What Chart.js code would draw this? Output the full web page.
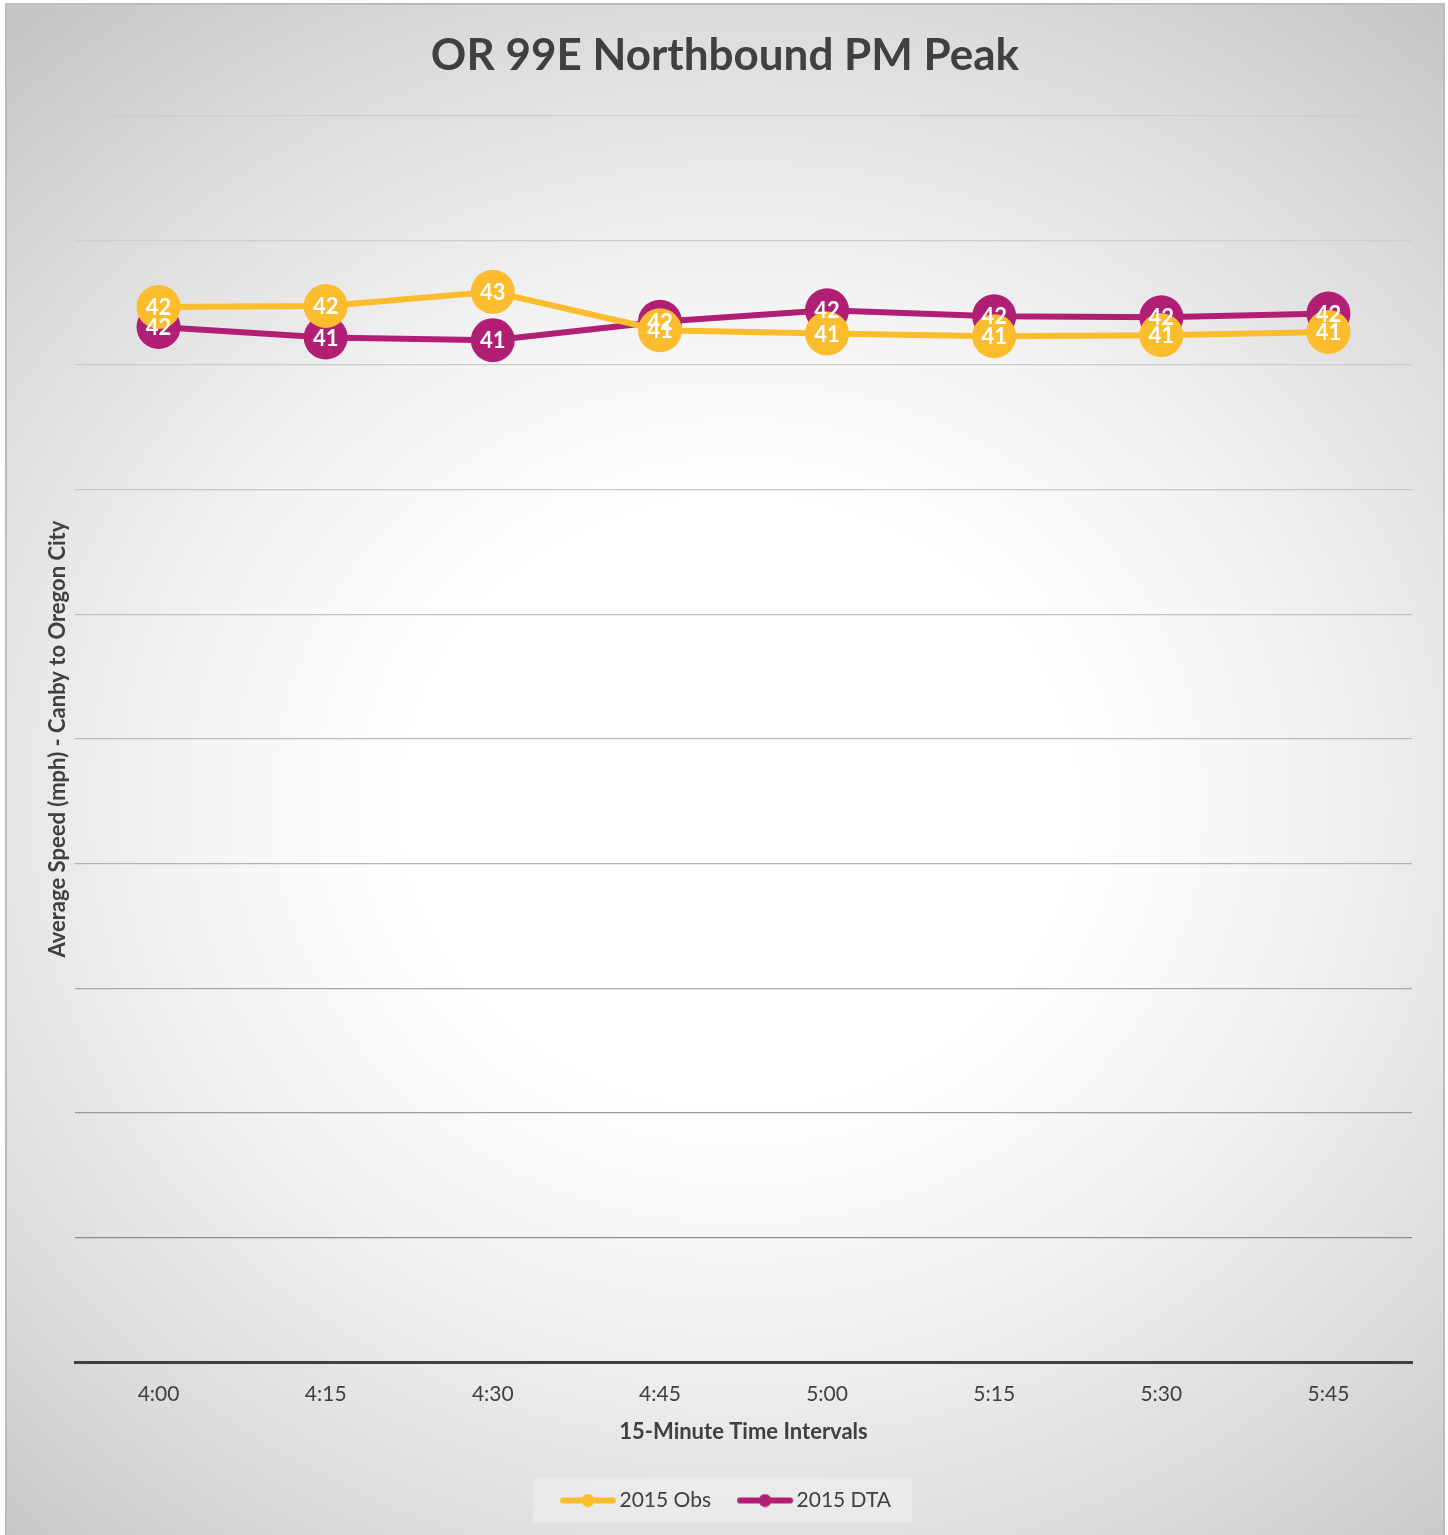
<!DOCTYPE html>
<html>
<head>
<meta charset="utf-8">
<script src="https://cdn.jsdelivr.net/npm/chart.js@4/dist/chart.umd.min.js"></script>
<style>
  html, body { margin: 0; padding: 0; background: #fff; }
  #marco {
    position: absolute;
    left: 5px; top: 3px;
    width: 1436px; height: 1532px;
    border: 2px solid #bcbcbc;
    border-bottom: none;
    background: radial-gradient(ellipse 78% 66% at 51% 52%, #ffffff 0%, #ffffff 30%, #f2f2f2 52%, #dadada 80%, #c6c6c6 100%);
  }
  #grafico { display: block; }
</style>
</head>
<body>
<div id="marco"><canvas id="grafico" width="1436" height="1532"></canvas></div>
<script>
// intervalos de 15 minutos y velocidades promedio (mph)
const intervalos = ["4:00", "4:15", "4:30", "4:45", "5:00", "5:15", "5:30", "5:45"];
const velObs = [42.33, 42.37, 42.94, 41.40, 41.27, 41.16, 41.20, 41.33];
const velDTA = [41.53, 41.11, 41.00, 41.74, 42.20, 41.96, 41.92, 42.07];

const colorObs = "#fbbc2d";
const colorDTA = "#b11f74";
const gris = "#404040";
const fuente = "Lato, 'Open Sans', sans-serif";

// linea con punto para la leyenda (el dibujo va cargado a la derecha)
const marcaLeyenda = (color) => {
  const c = document.createElement("canvas");
  c.width = 68;
  c.height = 14;
  const g = c.getContext("2d");
  g.strokeStyle = color;
  g.lineWidth = 6;
  g.lineCap = "round";
  g.beginPath();
  g.moveTo(13, 7);
  g.lineTo(63, 7);
  g.stroke();
  g.fillStyle = color;
  g.beginPath();
  g.arc(38, 7, 6.5, 0, Math.PI * 2);
  g.fill();
  return c;
};

// color de las lineas de la grilla, mas oscuras abajo
const colorGrilla = (valor) => {
  const tonos = { 0: "rgba(0,0,0,0)", 5: "#8e8e8e", 10: "#9c9c9c", 15: "#aaaaaa", 20: "#b3b3b3",
    25: "#bababa", 30: "#c1c1c1", 35: "#c6c6c6", 40: "#cbcbcb", 45: "#cecece", 50: "#cdcdcd" };
  return tonos[valor] || "#c8c8c8";
};

// numeros blancos encima de cada punto
const etiquetas = {
  id: "etiquetas",
  afterDatasetsDraw(chart) {
    const ctx = chart.ctx;
    ctx.save();
    ctx.fillStyle = "#ffffff";
    ctx.font = "bold 22px " + fuente;
    ctx.textAlign = "center";
    ctx.textBaseline = "middle";
    chart.data.datasets.forEach((ds, i) => {
      chart.getDatasetMeta(i).data.forEach((p, j) => {
        ctx.fillText(Math.round(ds.data[j]), p.x, p.y + 1);
      });
    });
    ctx.restore();
  },
};

// caja clara detras de la leyenda
const fondoLeyenda = {
  id: "fondoLeyenda",
  beforeDraw(chart) {
    const cajas = chart.legend.legendHitBoxes;
    if (!cajas || !cajas.length) return;
    const primera = cajas[0];
    const ultima = cajas[cajas.length - 1];
    const ctx = chart.ctx;
    ctx.save();
    ctx.fillStyle = "rgba(240,240,240,0.55)";
    const x0 = primera.left - 26;
    const x1 = ultima.left + ultima.width + 21;
    const yc = primera.top + primera.height / 2;
    ctx.fillRect(x0, yc - 22, x1 - x0, 44);
    ctx.restore();
  },
};

const grafico = document.getElementById("grafico");
const datasets = [
  {
    label: "2015 Obs",
    data: velObs,
    borderColor: colorObs,
    backgroundColor: colorObs,
    borderWidth: 6,
    pointRadius: 22,
    pointHoverRadius: 22,
    pointBorderWidth: 0,
    pointStyle: "circle",
  },
  {
    label: "2015 DTA",
    data: velDTA,
    borderColor: colorDTA,
    backgroundColor: colorDTA,
    borderWidth: 6,
    pointRadius: 22,
    pointHoverRadius: 22,
    pointBorderWidth: 0,
    pointStyle: "circle",
  },
];

const config = {
  type: "line",
  data: { labels: intervalos, datasets },
  options: {
    responsive: false,
    animation: false,
    events: [],
    layout: { padding: { left: 0, right: 0, top: 0, bottom: 16 } },
    plugins: {
      title: {
        display: true,
        text: "OR 99E Northbound PM Peak",
        color: gris,
        font: { family: fuente, size: 44, weight: "bold" },
        padding: { top: 24, bottom: 34 },
      },
      legend: {
        position: "bottom",
        labels: {
          color: gris,
          font: { family: fuente, size: 21 },
          usePointStyle: true,
          pointStyleWidth: 50,
          padding: 25,
          generateLabels: (chart) =>
            chart.data.datasets.map((ds, i) => ({
              text: ds.label,
              fontColor: gris,
              pointStyle: marcaLeyenda(ds.borderColor),
              datasetIndex: i,
              lineWidth: 0,
            })),
        },
      },
      tooltip: { enabled: false },
    },
    scales: {
      x: {
        offset: true,
        grid: { display: false, drawTicks: false },
        border: { display: true, color: gris, width: 3 },
        ticks: { color: gris, font: { family: fuente, size: 21 }, padding: 19 },
        title: {
          display: true,
          text: "15-Minute Time Intervals",
          color: gris,
          font: { family: fuente, size: 22, weight: "bold" },
          padding: { top: -7, bottom: 20 },
        },
      },
      y: {
        min: 0,
        max: 50,
        ticks: { display: false, stepSize: 5 },
        grid: { color: (c) => colorGrilla(c.tick.value), lineWidth: 1.3, drawTicks: false },
        border: { display: false },
        title: {
          display: true,
          text: "Average Speed (mph) - Canby to Oregon City",
          color: gris,
          font: { family: fuente, size: 22, weight: "bold" },
          padding: { top: 38, bottom: 0 },
        },
        afterFit: (escala) => {
          escala.width = 68;
        },
      },
      // margen derecho vacio
      derecha: {
        type: "linear",
        position: "right",
        grid: { display: false, drawTicks: false },
        border: { display: false },
        ticks: { display: false },
        afterFit: (escala) => {
          escala.width = 31;
        },
      },
    },
  },
  plugins: [fondoLeyenda, etiquetas],
};

const miGrafico = new Chart(grafico, config);
</script>
</body>
</html>
